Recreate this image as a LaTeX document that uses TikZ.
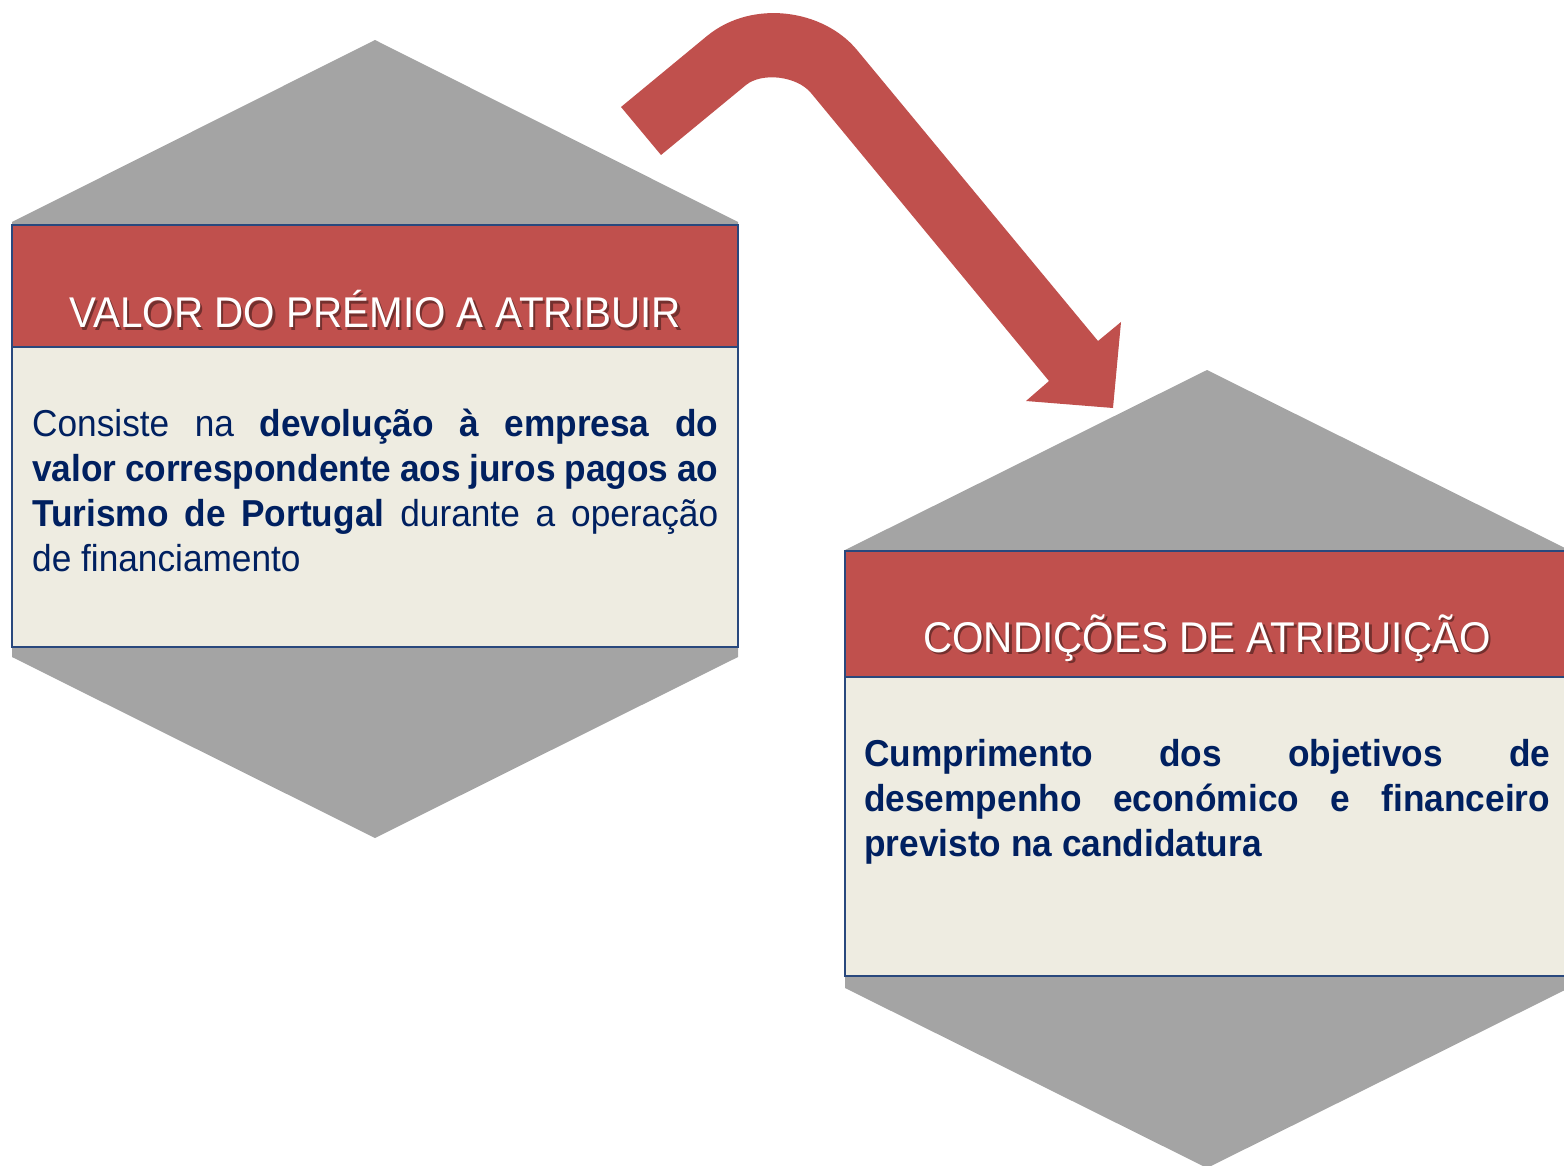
\documentclass[tikz,border=0pt]{standalone}
\usepackage{fontspec}
\setmainfont{Liberation Sans}[FakeStretch=0.94]
\definecolor{hexgray}{RGB}{164,164,164}
\definecolor{headred}{RGB}{192,80,77}
\definecolor{bodybeige}{RGB}{238,236,225}
\definecolor{edgeblue}{RGB}{41,72,125}
\definecolor{navy}{RGB}{0,32,96}
\tikzset{
  hexback/.style={fill=hexgray, draw=none},
  headbox/.style={fill=headred, draw=edgeblue, line width=2.2pt},
  bodybox/.style={fill=bodybeige, draw=edgeblue, line width=2.2pt},
  titletext/.style={anchor=base, inner sep=0, text=white, font=\fontsize{43}{50}\selectfont},
  titleshadow/.style={anchor=base, inner sep=0, text=black, opacity=0.4, font=\fontsize{43}{50}\selectfont},
  bodytext/.style={anchor=base west, inner sep=0, align=left, text=navy, font=\fontsize{37.5}{45}\selectfont},
  bigarrow/.style={fill=headred, draw=none}
}
\begin{document}
\begin{tikzpicture}[x=1pt,y=-1pt]
\useasboundingbox (0,0) rectangle (1564,1166);
\clip (0,0) rectangle (1564,1166);
% left hexagon
\path[hexback] (12,222) -- (375,40) -- (738,222) -- (738,657) -- (375,838) -- (12,657) -- cycle;
\path[headbox] (12,225) rectangle (738,347);
\path[bodybox] (12,347) rectangle (738,647);
\node[titleshadow] (t1s) at (377.5,330.5) {VALOR DO PRÉMIO A ATRIBUIR};
\node[titletext] (t1) at (375,328) {VALOR DO PRÉMIO A ATRIBUIR};
\node[bodytext, anchor=north west] (b1) at (32,409) {\makebox[686pt][s]{Consiste na \textbf{devolução à empresa do}}\\
\makebox[686pt][s]{\textbf{valor correspondente aos juros pagos ao}}\\
\makebox[686pt][s]{\textbf{Turismo de Portugal} durante a operação}\\
de financiamento};
% right hexagon
\path[hexback] (845,550) -- (1207,370) -- (1569,550) -- (1569,988) -- (1207,1168) -- (845,988) -- cycle;
\path[headbox] (845,551) rectangle (1569,677);
\path[bodybox] (845,677) rectangle (1569,976);
\node[titleshadow] (t2s) at (1209.5,654.5) {CONDIÇÕES DE ATRIBUIÇÃO};
\node[titletext] (t2) at (1207,652) {CONDIÇÕES DE ATRIBUIÇÃO};
\node[bodytext, anchor=north west, font=\fontsize{37.5}{45}\selectfont\bfseries] (b2) at (864,739) {\makebox[686pt][s]{Cumprimento dos objetivos de}\\
\makebox[686pt][s]{desempenho económico e financeiro}\\
previsto na candidatura};
% curved arrow
\path[bigarrow] (621,107) -- (707,36) .. controls (752,-1) and (823,9) .. (857,50)
  -- (1098,341) -- (1121,322) -- (1113,408) -- (1026,401) -- (1049,381)
  -- (811,93) .. controls (797,76) and (762,72) .. (746,85) -- (661,155) -- cycle;
\end{tikzpicture}
\end{document}
